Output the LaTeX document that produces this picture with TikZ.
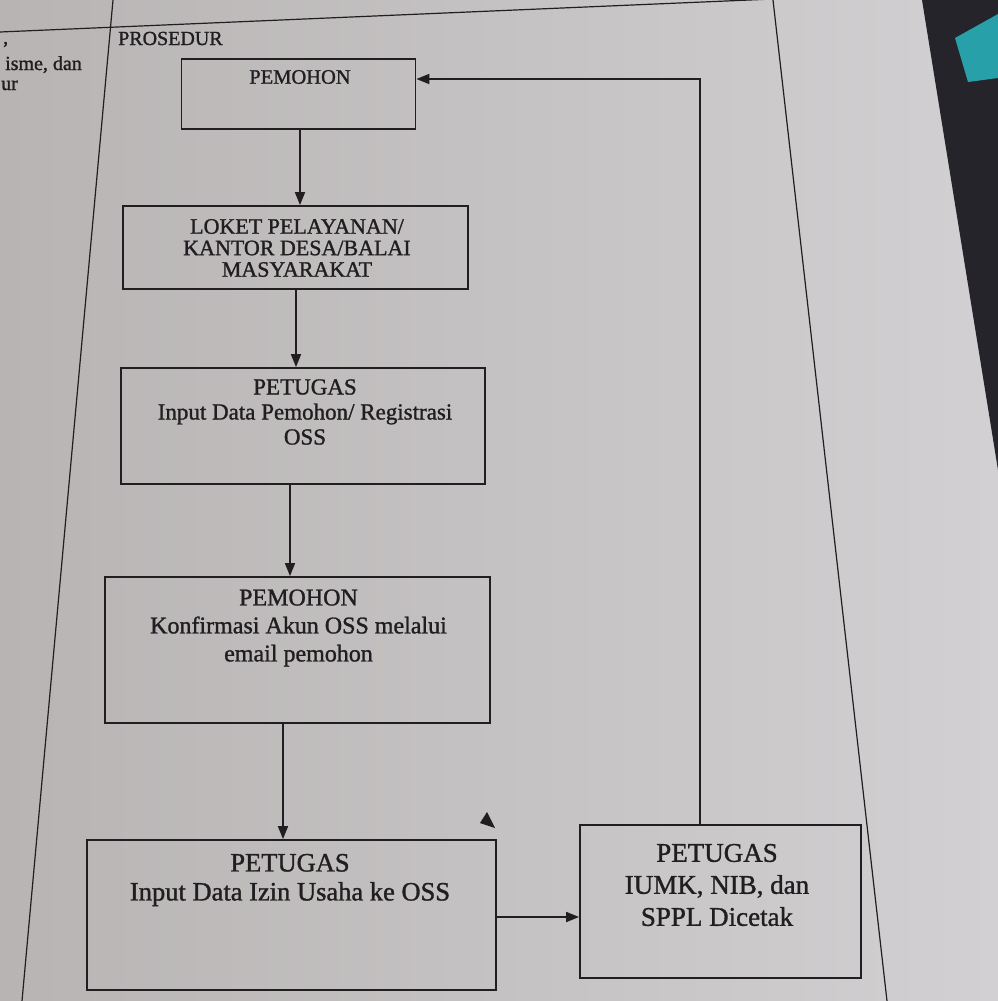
\documentclass[tikz,border=0pt]{standalone}
\usepackage{fontspec}
\setmainfont{Liberation Serif}[FakeBold=1.2]
\usetikzlibrary{arrows.meta,calc}
\definecolor{ink}{RGB}{32,30,32}
\definecolor{paperL}{RGB}{184,180,180}
\definecolor{paperR}{RGB}{210,208,210}
\definecolor{desk}{RGB}{36,36,42}
\definecolor{bookteal}{RGB}{40,160,170}
\begin{document}
\begin{tikzpicture}[x=1pt,y=-1pt,
  box/.style={draw=ink,line width=1.8pt,rectangle,inner sep=0pt},
  lbl/.style={text=ink,align=center,inner sep=0pt},
  arr/.style={draw=ink,line width=1.7pt,-{Triangle[length=13pt,width=10pt]}},
  rule/.style={draw=ink,line width=1.2pt}]
\useasboundingbox (0,0) rectangle (998,1001);
\clip (0,0) rectangle (998,1001);
% paper and desk
\fill[left color=paperL,right color=paperR] (0,0) rectangle (998,1001);
\fill[desk] (922,0) -- (998,0) -- (998,470) -- cycle;
\fill[bookteal] (955,38) -- (998,14) -- (998,78) -- (968,82) -- cycle;
% table rules
\draw[rule] (0,32) -- (773,-1);
\draw[rule] (113,0) -- (22,1001);
\draw[rule] (773,0) -- (887,1001);
% header and left column text
\node[lbl,anchor=base west,font=\fontsize{20}{20}\selectfont] (prosedur) at (118,45) {PROSEDUR};
\node[lbl,anchor=base west,font=\fontsize{20}{20}\selectfont] (lt0) at (3,44) {,};
\node[lbl,anchor=base west,font=\fontsize{20}{20}\selectfont] (lt1) at (5,70) {isme, dan};
\node[lbl,anchor=base west,font=\fontsize{20}{20}\selectfont] (lt2) at (1,90) {ur};
% boxes
\node[box,minimum width=234pt,minimum height=70pt] (b1) at (298.5,94) {};
\node[box,minimum width=345pt,minimum height=83pt] (b2) at (295.5,247.5) {};
\node[box,minimum width=364pt,minimum height=116pt] (b3) at (303,426) {};
\node[box,minimum width=385pt,minimum height=146pt] (b4) at (297.5,650) {};
\node[box,minimum width=409pt,minimum height=150pt] (b5) at (291.5,915) {};
\node[box,minimum width=281pt,minimum height=153pt] (b6) at (720.5,901.5) {};
% box texts
\node[lbl,font=\fontsize{20.5}{24}\selectfont] (t1) at (300,77) {PEMOHON};
\node[lbl,font=\fontsize{22}{21.5}\selectfont] (t2) at (297,248) {LOKET PELAYANAN/\\KANTOR DESA/BALAI\\MASYARAKAT};
\node[lbl,font=\fontsize{23}{25}\selectfont] (t3) at (305,412) {PETUGAS\\Input Data Pemohon/ Registrasi\\OSS};
\node[lbl,font=\fontsize{24}{28}\selectfont] (t4) at (298.5,628) {PEMOHON\\Konfirmasi Akun OSS melalui\\email pemohon};
\node[lbl,font=\fontsize{26.5}{29}\selectfont] (t5) at (290,880) {PETUGAS\\Input Data Izin Usaha ke OSS};
\node[lbl,font=\fontsize{27}{32}\selectfont] (t6) at (717,885) {PETUGAS\\IUMK, NIB, dan\\SPPL Dicetak};
% connectors
\coordinate (x1) at (300,0);
\coordinate (x2) at (296,0);
\coordinate (x3) at (290,0);
\coordinate (x4) at (283,0);
\coordinate (h1) at (0,917);
\coordinate (fb) at (700,79);
\draw[arr] (b1.south -| x1) -- (b2.north -| x1);
\draw[arr] (b2.south -| x2) -- (b3.north -| x2);
\draw[arr] (b3.south -| x3) -- (b4.north -| x3);
\draw[arr] (b4.south -| x4) -- (b5.north -| x4);
\draw[arr] (b5.east |- h1) -- (b6.west |- h1);
\draw[arr] (b6.north -| fb) -- (fb) -- (b1.east |- fb);
% stray arrowhead
\fill[ink] (480,823) -- (495,828) -- (487,812) -- cycle;
\end{tikzpicture}
\end{document}
